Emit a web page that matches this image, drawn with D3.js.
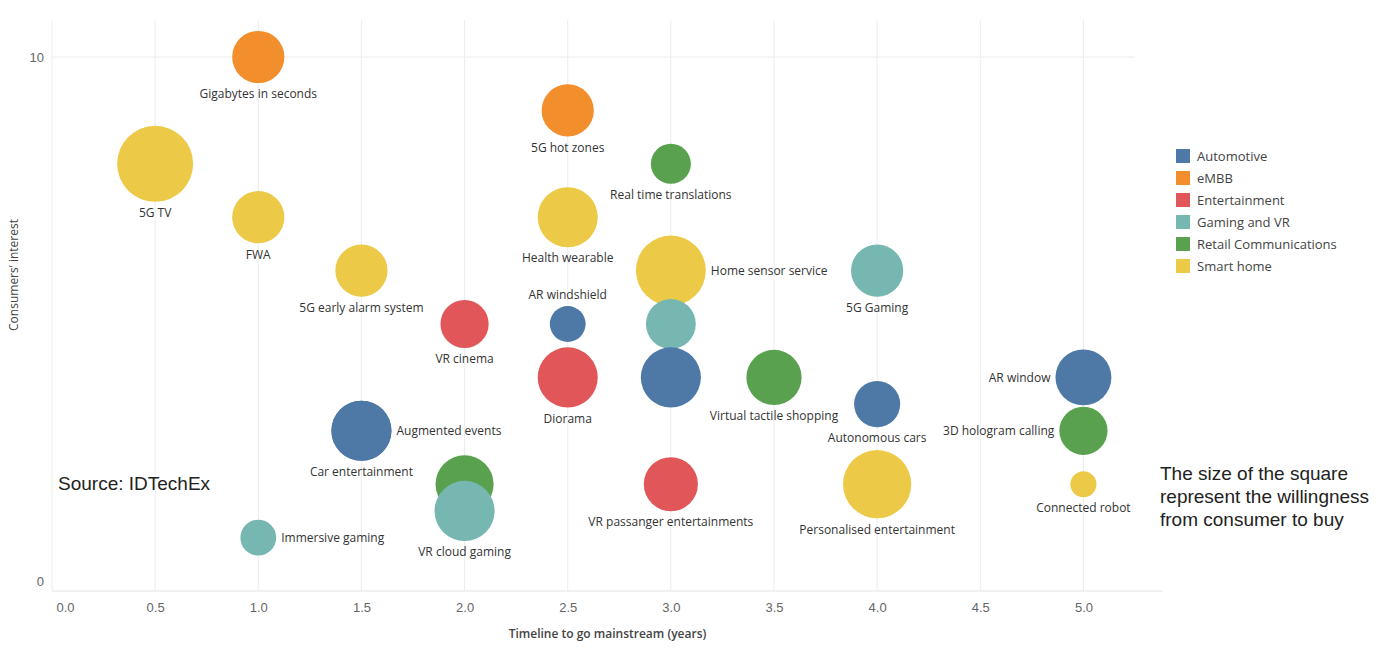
<!DOCTYPE html>
<html>
<head>
<meta charset="utf-8">
<script src="https://cdn.jsdelivr.net/npm/d3@7"></script>
<style>
  body { margin: 0; background: #fff; }
  svg { font-family: "Open Sans", sans-serif; }
</style>
</head>
<body>
<svg id="chart" width="1378" height="660"></svg>
<script>
// chart data
const names = [
  'Gigabytes in seconds', '5G hot zones', '5G TV', 'Real time translations', 'FWA',
  'Health wearable', 'Home sensor service', '5G early alarm system', '5G Gaming',
  'AR windshield', 'VR cinema', null, 'Diorama', null, 'Virtual tactile shopping',
  'AR window', 'Autonomous cars', '3D hologram calling', 'Car entertainment',
  'Augmented events', null, 'VR passanger entertainments', 'Personalised entertainment',
  'Connected robot', 'VR cloud gaming', 'Immersive gaming'
];
const categories = [
  'eMBB', 'eMBB', 'Smart home', 'Retail Communications', 'Smart home',
  'Smart home', 'Smart home', 'Smart home', 'Gaming and VR',
  'Automotive', 'Entertainment', 'Gaming and VR', 'Entertainment', 'Automotive', 'Retail Communications',
  'Automotive', 'Automotive', 'Retail Communications', 'Automotive',
  'Automotive', 'Retail Communications', 'Entertainment', 'Smart home',
  'Smart home', 'Gaming and VR', 'Gaming and VR'
];
const timeline = [1, 2.5, 0.5, 3, 1, 2.5, 3, 1.5, 4, 2.5, 2, 3, 2.5, 3, 3.5, 5, 4, 5, 1.5, 1.5, 2, 3, 4, 5, 2, 1];
const interest = [10, 9, 8, 8, 7, 7, 6, 6, 6, 5, 5, 5, 4, 4, 4, 4, 3.5, 3, 3, 3, 2, 2, 2, 2, 1.5, 1];
// willingness to buy (bubble area)
const willingness = [68, 68, 144, 40, 68, 90, 122, 68, 68, 32, 58, 62, 90, 90, 76, 78, 53, 58, 90, 90, 84, 73, 116, 17, 90, 32];

const legendItems = ['Automotive', 'eMBB', 'Entertainment', 'Gaming and VR', 'Retail Communications', 'Smart home'];
const legendColors = ['#4e79a7', '#f28e2b', '#e15759', '#76b7b2', '#59a14f', '#edc948'];
const xTicks = [0, 0.5, 1, 1.5, 2, 2.5, 3, 3.5, 4, 4.5, 5];
const yTicks = [0, 10];
const noteLines = ['The size of the square', 'represent the willingness', 'from consumer to buy'];

// where each label sits relative to its bubble
const labelSide = {
  'Home sensor service': 'right', 'Augmented events': 'right', 'Immersive gaming': 'right',
  'AR window': 'left', '3D hologram calling': 'left', 'AR windshield': 'above'
};

const svg = d3.select('#chart');
const plotLeft = 52, plotRight = 1135, plotTop = 20, plotBottom = 591;

const x = d3.scaleLinear().domain([0, 5.25]).range([plotLeft, plotRight]);
const y = d3.scaleLinear().domain([0, 10]).range([plotBottom, 57]);
const r = d3.scaleSqrt().domain([0, 144]).range([0, 38]);
const color = d3.scaleOrdinal().domain(legendItems).range(legendColors);

// gridlines
svg.append('g')
  .selectAll('line')
  .data(xTicks)
  .join('line')
  .attr('x1', d => x(d)).attr('x2', d => x(d))
  .attr('y1', plotTop).attr('y2', plotBottom)
  .attr('stroke', '#ececec');

svg.append('line')
  .attr('x1', plotLeft).attr('x2', plotRight)
  .attr('y1', y(10)).attr('y2', y(10))
  .attr('stroke', '#ececec');

svg.append('line')
  .attr('x1', plotLeft).attr('x2', 1163)
  .attr('y1', plotBottom).attr('y2', plotBottom)
  .attr('stroke', '#e4e4e4');

// axes
const xAxis = svg.append('g')
  .attr('transform', `translate(0,${plotBottom})`)
  .call(d3.axisBottom(x).tickValues(xTicks).tickFormat(d3.format('.1f')).tickSize(0).tickPadding(12));
xAxis.select('.domain').remove();
xAxis.selectAll('text')
  .attr('fill', '#666').attr('font-size', 13)
  .attr('dx', d => d === 0 ? 13 : 0);

const yAxis = svg.append('g')
  .attr('transform', `translate(${plotLeft},0)`)
  .call(d3.axisLeft(y).tickValues(yTicks).tickSize(0).tickPadding(8));
yAxis.select('.domain').remove();
yAxis.selectAll('text')
  .attr('fill', '#666').attr('font-size', 13)
  .attr('dy', d => d === 0 ? '-0.4em' : '0.32em');

svg.append('text')
  .attr('x', (plotLeft + 1163) / 2).attr('y', 638)
  .attr('text-anchor', 'middle')
  .attr('font-size', 12).attr('font-weight', 600).attr('fill', '#444')
  .text('Timeline to go mainstream (years)');

svg.append('text')
  .attr('transform', 'translate(18,275) rotate(-90)')
  .attr('text-anchor', 'middle')
  .attr('font-size', 12).attr('fill', '#444')
  .text('Consumers\u2019 interest');

// bubbles
const points = names.map((n, i) => ({
  name: n, cat: categories[i], x: timeline[i], y: interest[i], s: willingness[i]
}));

svg.append('g')
  .selectAll('circle')
  .data(points)
  .join('circle')
  .attr('cx', d => x(d.x))
  .attr('cy', d => y(d.y))
  .attr('r', d => r(d.s))
  .attr('fill', d => color(d.cat));

svg.append('g')
  .selectAll('text')
  .data(points.filter(d => d.name))
  .join('text')
  .attr('font-size', 12)
  .attr('fill', '#333')
  .attr('dy', '0.35em')
  .each(function (d) {
    const side = labelSide[d.name] || 'below';
    const cx = x(d.x), cy = y(d.y), rr = r(d.s);
    const t = d3.select(this);
    if (side === 'right') t.attr('x', cx + rr + 5).attr('y', cy).attr('text-anchor', 'start');
    else if (side === 'left') t.attr('x', cx - rr - 5).attr('y', cy).attr('text-anchor', 'end');
    else if (side === 'above') t.attr('x', cx).attr('y', cy - rr - 11).attr('text-anchor', 'middle');
    else t.attr('x', cx).attr('y', cy + rr + 11).attr('text-anchor', 'middle');
  })
  .text(d => d.name);

// legend
const legend = svg.append('g').attr('transform', 'translate(1176,149)');
legend.selectAll('rect')
  .data(legendItems)
  .join('rect')
  .attr('x', 0).attr('y', (d, i) => i * 22)
  .attr('width', 14).attr('height', 14)
  .attr('fill', d => color(d));
legend.selectAll('text')
  .data(legendItems)
  .join('text')
  .attr('x', 21).attr('y', (d, i) => i * 22 + 7)
  .attr('dy', '0.35em')
  .attr('font-size', 13).attr('fill', '#444')
  .text(d => d);

// notes
svg.append('text')
  .attr('x', 58).attr('y', 483).attr('dy', '0.35em')
  .attr('font-family', 'Liberation Sans, Arial, sans-serif')
  .attr('font-size', 19).attr('fill', '#222')
  .text('Source: IDTechEx');

svg.append('g')
  .selectAll('text')
  .data(noteLines)
  .join('text')
  .attr('x', 1160).attr('y', (d, i) => 473 + i * 23).attr('dy', '0.35em')
  .attr('font-family', 'Liberation Sans, Arial, sans-serif')
  .attr('font-size', 19).attr('fill', '#222')
  .text(d => d);
</script>
</body>
</html>
